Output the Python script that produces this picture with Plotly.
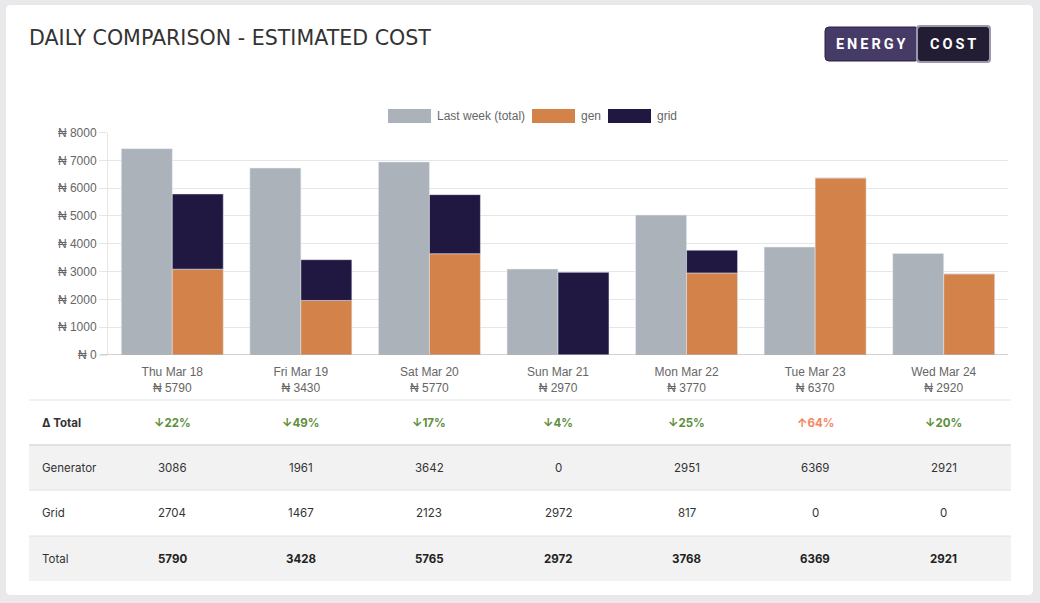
import plotly.graph_objects as go

# ---------------- data ----------------
days = ["Thu Mar 18", "Fri Mar 19", "Sat Mar 20", "Sun Mar 21", "Mon Mar 22", "Tue Mar 23", "Wed Mar 24"]
day_totals_label = [5790, 3430, 5770, 2970, 3770, 6370, 2920]
last_week_total = [7420, 6720, 6940, 3090, 5030, 3880, 3650]
gen = [3086, 1961, 3642, 0, 2951, 6369, 2921]
grid = [2704, 1467, 2123, 2972, 817, 0, 0]
total = [5790, 3428, 5765, 2972, 3768, 6369, 2921]
delta_pct = [-22, -49, -17, -4, -25, 64, -20]
y_ticks = [0, 1000, 2000, 3000, 4000, 5000, 6000, 7000, 8000]

W, H = 1040, 603
def px(x): return x / W
def py(y): return 1 - y / H

C_GREY = "#abb2b9"
C_GEN = "#d3834a"
C_GRID = "#211842"
AX_FONT = "Liberation Sans, Arial, sans-serif"
TB_FONT = "Inter, Noto Sans, sans-serif"

fig = go.Figure()
fig.add_trace(go.Bar(x=days, y=last_week_total, name="Last week (total)", marker_color=C_GREY,
                     offsetgroup="lw", showlegend=False))
fig.add_trace(go.Bar(x=days, y=gen, name="gen", marker_color=C_GEN, offsetgroup="cur", showlegend=False))
fig.add_trace(go.Bar(x=days, y=grid, base=gen, name="grid", marker_color=C_GRID, offsetgroup="cur",
                     showlegend=False))

shapes = []
ann = []

def rrect(x0, y0, x1, y1, r):
    return (f"M {px(x0+r)} {py(y0)} L {px(x1-r)} {py(y0)} Q {px(x1)} {py(y0)} {px(x1)} {py(y0+r)} "
            f"L {px(x1)} {py(y1-r)} Q {px(x1)} {py(y1)} {px(x1-r)} {py(y1)} "
            f"L {px(x0+r)} {py(y1)} Q {px(x0)} {py(y1)} {px(x0)} {py(y1-r)} "
            f"L {px(x0)} {py(y0+r)} Q {px(x0)} {py(y0)} {px(x0+r)} {py(y0)} Z")

# card
shapes.append(dict(type="path", xref="paper", yref="paper", path=rrect(6, 5, 1033, 595, 5),
                   fillcolor="white", line=dict(width=0), layer="below"))

# title
ann.append(dict(x=px(27), y=py(38.5), xref="paper", yref="paper", xanchor="left", yanchor="middle",
                text="DAILY COMPARISON - ESTIMATED COST", showarrow=False,
                font=dict(family="DejaVu Sans, sans-serif", size=20.6, color="#333")))

# buttons
shapes.append(dict(type="path", xref="paper", yref="paper", path=rrect(825, 27, 919, 61, 4),
                   fillcolor="#453b66", line=dict(color="#2a2345", width=1)))
shapes.append(dict(type="path", xref="paper", yref="paper", path=rrect(916, 25, 991, 63, 4),
                   fillcolor="#9c97ad", line=dict(width=0)))
shapes.append(dict(type="path", xref="paper", yref="paper", path=rrect(918, 27, 989, 61, 3),
                   fillcolor="#221d33", line=dict(width=0)))
sp = "\u2009"
ann.append(dict(x=px(871), y=py(44.5), xref="paper", yref="paper", xanchor="center", yanchor="middle",
                text="<b>" + sp.join("ENERGY") + "</b>", showarrow=False,
                font=dict(family="Roboto, sans-serif", size=14.5, color="white")))
ann.append(dict(x=px(953), y=py(44.5), xref="paper", yref="paper", xanchor="center", yanchor="middle",
                text="<b>" + sp.join("COST") + "</b>", showarrow=False,
                font=dict(family="Roboto, sans-serif", size=14.5, color="white")))

# legend (manual, Chart.js style)
leg = [("Last week (total)", C_GREY, 388), ("gen", C_GEN, 532), ("grid", C_GRID, 608)]
for name, col, x0 in leg:
    shapes.append(dict(type="rect", xref="paper", yref="paper", x0=px(x0), x1=px(x0 + 43),
                       y0=py(109), y1=py(123), fillcolor=col, line=dict(width=0)))
    ann.append(dict(x=px(x0 + 47), y=py(116), xref="paper", yref="paper", xanchor="left", yanchor="middle",
                    text=name, showarrow=False, font=dict(family=AX_FONT, size=12, color="#666")))

# zero line (extends into tick area)
shapes.append(dict(type="line", xref="paper", yref="y", x0=px(100), x1=px(1008), y0=0, y1=0,
                   line=dict(color="#a6a6a6", width=1)))

# table
rows_y = [400, 445, 490, 536, 581]
for i in range(4):
    if i % 2 == 1:
        shapes.append(dict(type="rect", xref="paper", yref="paper", x0=px(29), x1=px(1011),
                           y0=py(rows_y[i]), y1=py(rows_y[i + 1]), fillcolor="#f2f2f2",
                           line=dict(width=0), layer="below"))
for i, yy in enumerate(rows_y[:4]):
    shapes.append(dict(type="line", xref="paper", yref="paper", x0=px(29), x1=px(1011),
                       y0=py(yy), y1=py(yy), line=dict(color="#dee2e6", width=2 if i == 1 else 1)))

row_labels = ["<b>Δ Total</b>", "Generator", "Grid", "Total"]
for i, lab in enumerate(row_labels):
    yc = (rows_y[i] + rows_y[i + 1]) / 2
    ann.append(dict(x=px(40), y=py(yc), xref="paper", yref="paper", xanchor="left", yanchor="middle",
                    text=lab, showarrow=False, font=dict(family=TB_FONT, size=11.5, color="#333")))

for j, d in enumerate(days):
    p = delta_pct[j]
    arrow = "↑" if p > 0 else "↓"
    col = "#f5875f" if p > 0 else "#5e8f3d"
    vals = [f"<b>{arrow}{abs(p)}%</b>", str(gen[j]), str(grid[j]), f"<b>{total[j]}</b>"]
    cols = [col, "#333", "#333", "#222"]
    for i in range(4):
        yc = (rows_y[i] + rows_y[i + 1]) / 2
        ann.append(dict(x=d, y=py(yc), xref="x", yref="paper", xanchor="center", yanchor="middle",
                        text=vals[i], showarrow=False, font=dict(family=TB_FONT, size=11.5, color=cols[i])))

fig.update_layout(
    width=W, height=H, autosize=False,
    margin=dict(l=0, r=0, t=0, b=0, pad=0, autoexpand=False),
    paper_bgcolor="#e9e9eb", plot_bgcolor="rgba(0,0,0,0)",
    barmode="group", bargap=0.207, bargroupgap=0,
    shapes=shapes, annotations=ann, showlegend=False,
    xaxis=dict(domain=[px(108), px(1008)], type="category", categoryorder="array", categoryarray=days,
               tickvals=days, ticktext=[f"{d}<br>₦ {t}" for d, t in zip(days, day_totals_label)],
               tickfont=dict(family=AX_FONT, size=12, color="#666"), showgrid=False, showline=False,
               ticks="", ticklabelstandoff=8, automargin=False),
    yaxis=dict(domain=[py(355), py(132.5)], range=[0, 8000], tickvals=y_ticks,
               ticktext=[f"₦ {v}" for v in y_ticks],
               tickfont=dict(family=AX_FONT, size=12, color="#666"),
               gridcolor="#e6e6e6", gridwidth=1, zeroline=False,
               showline=True, linecolor="#e6e6e6", linewidth=1, automargin=False,
               ticks="outside", ticklen=8, tickcolor="#e6e6e6", ticklabelstandoff=0),
    font=dict(family=AX_FONT),
)

fig.write_html("out.html", config={"displayModeBar": False},
               post_script="document.body.style.margin='0';document.body.style.overflow='hidden';")
